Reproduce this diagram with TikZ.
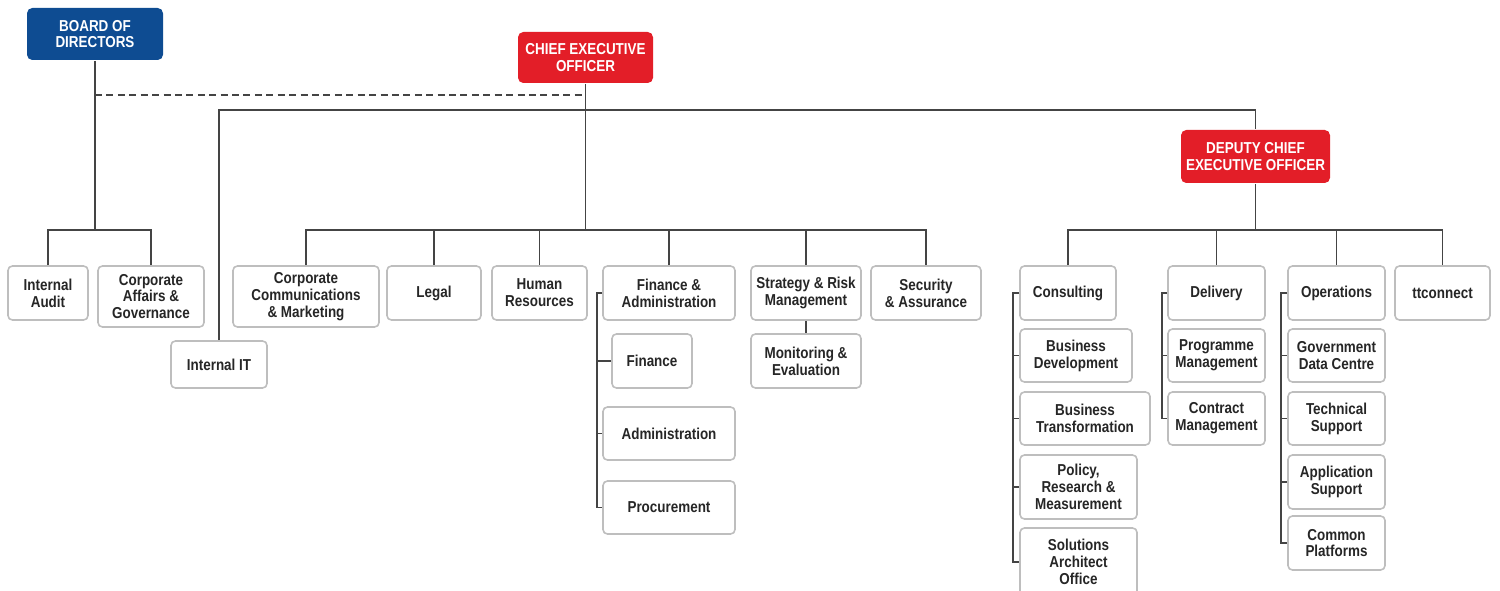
\documentclass[tikz,border=0pt]{standalone}
\usepackage{fontspec}
\setmainfont{Liberation Sans}[FakeStretch=0.85]
\definecolor{bodblue}{HTML}{0E4C92}
\definecolor{ceored}{HTML}{E31E28}
\definecolor{boxline}{HTML}{BEBEBE}
\definecolor{linkline}{HTML}{444444}
\definecolor{txt}{HTML}{262626}
\newcommand\ubox[7][unit]{%
  \node[#1, minimum width={(#5-#3)*0.02cm}, minimum height={(#6-#4)*0.02cm}]
    (#2) at ({(#3+#5)/2},{(#4+#6)/2}) {#7};}
\begin{document}
\begin{tikzpicture}[x=0.02cm,y=-0.02cm,
  unit/.style={draw=boxline, line width=0.9pt, fill=white, rounded corners=2.5pt,
    inner sep=0pt, align=center, text=txt,
    font={\fontsize{9}{9.6}\selectfont\bfseries}},
  chiefblue/.style={unit, draw=none, fill=bodblue, text=white, rounded corners=3pt},
  chiefred/.style={unit, draw=none, fill=ceored, text=white, rounded corners=3pt},
  link/.style={draw=linkline, line width=0.95pt},
  dotlink/.style={link, dashed, dash pattern=on 4pt off 2.5pt}]
\useasboundingbox (0,0) rectangle (1500,591);
% connectors first (behind boxes)
\coordinate (dash) at (0,95);
\coordinate (top) at (0,110);
\coordinate (bus) at (0,230);
\coordinate (fx) at (597,0);
\coordinate (cx) at (1013,0);
\coordinate (dx) at (1162,0);
\coordinate (ox) at (1281,0);
% top level
\ubox[chiefblue]{bod}{27}{8}{163}{60}{BOARD OF\\DIRECTORS}
\ubox[chiefred]{ceo}{518}{32}{653}{83}{CHIEF EXECUTIVE\\OFFICER}
\ubox[chiefred]{dceo}{1181}{130}{1330}{183}{DEPUTY CHIEF\\EXECUTIVE OFFICER}
% board group
\ubox{ia}{8}{266}{88}{320}{Internal\\Audit}
\ubox{cag}{98}{266}{204}{327}{Corporate\\Affairs \&\\Governance}
\ubox{iit}{171}{341}{267}{388}{Internal IT}
% CEO group
\ubox{cc}{233}{266}{379}{327}{Corporate\\Communications\\\& Marketing}
\ubox{leg}{387}{266}{481}{320}{Legal}
\ubox{hr}{492}{266}{587}{320}{Human\\Resources}
\ubox{fa}{603}{266}{735}{320}{Finance \&\\Administration}
\ubox{sr}{751}{266}{861}{320}{Strategy \& Risk\\Management}
\ubox{sec}{871}{266}{981}{320}{Security\\\& Assurance}
\ubox{me}{751}{334}{861}{388}{Monitoring \&\\Evaluation}
\ubox{fin}{612}{334}{692}{388}{Finance}
\ubox{adm}{603}{407}{735}{460}{Administration}
\ubox{proc}{603}{481}{735}{534}{Procurement}
% DCEO group
\ubox{cons}{1020}{266}{1116}{320}{Consulting}
\ubox{bd}{1020}{329}{1132}{382}{Business\\Development}
\ubox{bt}{1020}{392}{1150}{445}{Business\\Transformation}
\ubox{prm}{1020}{455}{1137}{519}{Policy,\\Research \&\\Measurement}
\ubox{sao}{1020}{528}{1137}{596}{Solutions\\Architect\\Office}
\ubox{del}{1168}{266}{1265}{320}{Delivery}
\ubox{pm}{1168}{329}{1265}{382}{Programme\\Management}
\ubox{cm}{1168}{392}{1265}{445}{Contract\\Management}
\ubox{ops}{1288}{266}{1385}{320}{Operations}
\ubox{gdc}{1288}{329}{1385}{382}{Government\\Data Centre}
\ubox{ts}{1288}{392}{1385}{445}{Technical\\Support}
\ubox{as}{1288}{455}{1385}{509}{Application\\Support}
\ubox{cp}{1288}{516}{1385}{570}{Common\\Platforms}
\ubox{tt}{1395}{266}{1490}{320}{ttconnect}
% connectors
\draw[link] (bod.south) -- (bod.south |- bus);
\draw[link] (ia.north) -- (ia.north |- bus) -- (cag.north |- bus) -- (cag.north);
\draw[dotlink] (bod.south |- dash) -- (ceo.south |- dash);
\draw[link] (ceo.south) -- (ceo.south |- bus);
\draw[link] (iit.north) |- (ceo.south |- top) -| (dceo.north);
\draw[link] (cc.north) -- (cc.north |- bus) -- (sec.north |- bus) -- (sec.north);
\draw[link] (leg.north) -- (leg.north |- bus);
\draw[link] (hr.north) -- (hr.north |- bus);
\draw[link] (fa.north) -- (fa.north |- bus);
\draw[link] (sr.north) -- (sr.north |- bus);
\draw[link] (sr.south) -- (me.north);
\draw[link] (fa.west) -- (fa.west -| fx) |- (proc.west);
\draw[link] (fin.west -| fx) -- (fin.west);
\draw[link] (adm.west -| fx) -- (adm.west);
\draw[link] (dceo.south) -- (dceo.south |- bus);
\draw[link] (cons.north) -- (cons.north |- bus) -- (tt.north |- bus) -- (tt.north);
\draw[link] (del.north) -- (del.north |- bus);
\draw[link] (ops.north) -- (ops.north |- bus);
\draw[link] (cons.west) -- (cons.west -| cx) |- (sao.west);
\draw[link] (bd.west -| cx) -- (bd.west);
\draw[link] (bt.west -| cx) -- (bt.west);
\draw[link] (prm.west -| cx) -- (prm.west);
\draw[link] (del.west) -- (del.west -| dx) |- (cm.west);
\draw[link] (pm.west -| dx) -- (pm.west);
\draw[link] (ops.west) -- (ops.west -| ox) |- (cp.west);
\draw[link] (gdc.west -| ox) -- (gdc.west);
\draw[link] (ts.west -| ox) -- (ts.west);
\draw[link] (as.west -| ox) -- (as.west);
\end{tikzpicture}
\end{document}
